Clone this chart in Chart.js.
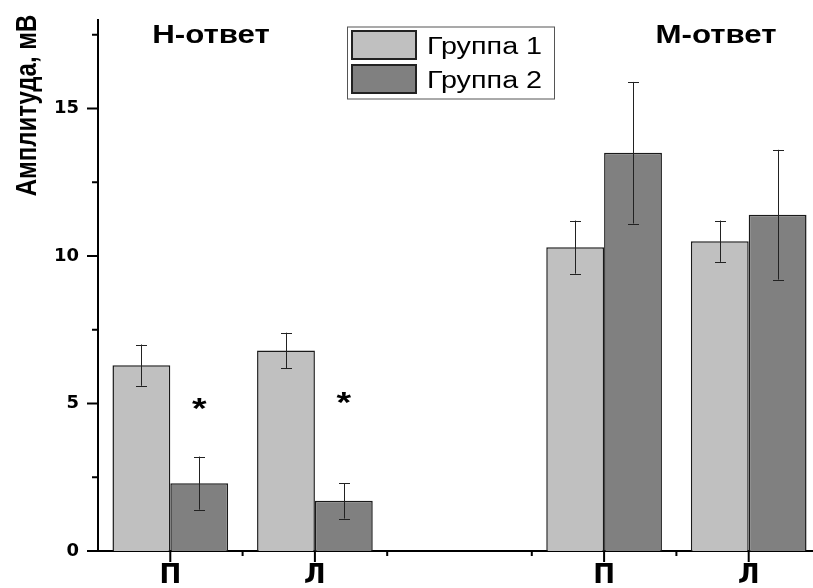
<!DOCTYPE html>
<html>
<head>
<meta charset="utf-8">
<script src="https://cdn.jsdelivr.net/npm/chart.js@4.4.1/dist/chart.umd.min.js"></script>
<style>
  html, body { margin: 0; padding: 0; background: #fff; overflow: hidden; }
  #wrap { position: relative; width: 830px; height: 588px; }
</style>
</head>
<body>
<div id="wrap"><canvas id="chart"></canvas></div>
<script>
// Amplitude of the H- and M-responses, left/right side, two groups
const categories = ['П', 'Л', '', 'П', 'Л'];
const seriesNames = ['Группа 1', 'Группа 2'];
const group1Values = [6.3, 6.8, null, 10.3, 10.5];
const group1Errors = [0.7, 0.6, null, 0.9, 0.7];
const group2Values = [2.3, 1.7, null, 13.5, 11.4];
const group2Errors = [0.9, 0.6, null, 2.4, 2.2];
const yTicks = [0, 5, 10, 15];
const significance = ['*', '*', '', '', ''];
const significanceLevel = [5.0, 5.2, null, null, null];
const sectionTitles = ['Н-ответ', 'М-ответ'];
const yTitle = 'Амплитуда, мВ';

const SX = 1.25; // horizontal stretch used for the drawn captions

function stretchedText(ctx, text, x, y, font, align) {
  ctx.save();
  ctx.font = font;
  ctx.fillStyle = '#000';
  ctx.textBaseline = 'alphabetic';
  ctx.textAlign = align;
  ctx.translate(x, y);
  ctx.scale(SX, 1);
  ctx.fillText(text, 0, 0);
  ctx.restore();
}

const decorations = {
  id: 'decorations',
  afterDatasetsDraw(chart) {
    const ctx = chart.ctx;
    const xs = chart.scales.x, ys = chart.scales.y;
    const area = chart.chartArea;

    // error bars
    ctx.save();
    ctx.strokeStyle = '#222';
    ctx.lineWidth = 1;
    chart.data.datasets.forEach((ds, di) => {
      const meta = chart.getDatasetMeta(di);
      ds.data.forEach((v, i) => {
        const e = ds.errors[i];
        if (v == null || e == null) return;
        const x = Math.round(meta.data[i].x) + 0.5;
        const yt = ys.getPixelForValue(v + e);
        const yb = ys.getPixelForValue(v - e);
        ctx.beginPath();
        ctx.moveTo(x, yt); ctx.lineTo(x, yb);
        ctx.moveTo(x - 5.5, Math.round(yt) + 0.5); ctx.lineTo(x + 5.5, Math.round(yt) + 0.5);
        ctx.moveTo(x - 5.5, Math.round(yb) + 0.5); ctx.lineTo(x + 5.5, Math.round(yb) + 0.5);
        ctx.stroke();
      });
    });
    ctx.restore();

    // axis tick marks (major and minor)
    ctx.save();
    ctx.strokeStyle = '#000';
    ctx.lineWidth = 2;
    ctx.beginPath();
    const step = yTicks[1] - yTicks[0];
    yTicks.forEach(v => {
      const y = ys.getPixelForValue(v);
      ctx.moveTo(area.left - 11, y); ctx.lineTo(area.left, y);
      const m = v + step / 2;
      if (m <= ys.max) {
        const ym = ys.getPixelForValue(m);
        ctx.moveTo(area.left - 6, ym); ctx.lineTo(area.left, ym);
      }
    });
    categories.forEach((c, i) => {
      const x = xs.getPixelForTick(i);
      if (c !== '') { ctx.moveTo(x, area.bottom); ctx.lineTo(x, area.bottom + 11); }
      if (i > 0) {
        const xb = (x + xs.getPixelForTick(i - 1)) / 2;
        ctx.moveTo(xb, area.bottom); ctx.lineTo(xb, area.bottom + 5);
      }
    });
    ctx.stroke();
    ctx.restore();

    // significance marks above group 2 bars
    const meta2 = chart.getDatasetMeta(1);
    significance.forEach((s, i) => {
      if (!s) return;
      const font = 'bold 30px "Liberation Sans", Arial, sans-serif';
      ctx.save();
      ctx.font = font;
      const m = ctx.measureText(s);
      ctx.restore();
      const cy = ys.getPixelForValue(significanceLevel[i]);
      const base = cy + (m.actualBoundingBoxAscent - m.actualBoundingBoxDescent) / 2;
      stretchedText(ctx, s, meta2.data[i].x, base, font, 'center');
    });
  },
  afterDraw(chart) {
    const ctx = chart.ctx;

    // section captions
    const capFont = 'bold 25px "Liberation Sans", Arial, sans-serif';
    stretchedText(ctx, sectionTitles[0], 211, 43, capFont, 'center');
    stretchedText(ctx, sectionTitles[1], 716, 43, capFont, 'center');

    // y axis title, rotated
    ctx.save();
    ctx.font = 'bold 24px "Liberation Sans", Arial, sans-serif';
    ctx.fillStyle = '#000';
    ctx.textAlign = 'center';
    ctx.textBaseline = 'alphabetic';
    ctx.translate(36, 105.5);
    ctx.rotate(-Math.PI / 2);
    ctx.scale(1, SX);
    ctx.fillText(yTitle, 0, 0);
    ctx.restore();

    // legend box
    const lx = 347, ly = 26.5, lw = 207, lh = 72;
    ctx.save();
    ctx.fillStyle = '#fff';
    ctx.fillRect(lx, ly, lw, lh);
    ctx.strokeStyle = '#555';
    ctx.lineWidth = 1;
    ctx.strokeRect(lx + 0.5, ly + 0.5, lw, lh);
    chart.data.datasets.forEach((ds, i) => {
      const sy = 30 + i * 34;
      ctx.fillStyle = ds.backgroundColor;
      ctx.fillRect(351, sy, 66, 30);
      ctx.strokeStyle = '#222';
      ctx.lineWidth = 2;
      ctx.strokeRect(352, sy + 1, 64, 28);
      stretchedText(ctx, ds.label, 427, 54 + i * 34, '23px "Liberation Sans", Arial, sans-serif', 'left');
    });
    ctx.restore();
  }
};

new Chart(document.getElementById('chart'), {
  type: 'bar',
  data: {
    labels: categories,
    datasets: [
      { label: seriesNames[0], data: group1Values, errors: group1Errors,
        backgroundColor: '#c0c0c0', borderColor: '#1a1a1a', borderWidth: 1.5 },
      { label: seriesNames[1], data: group2Values, errors: group2Errors,
        backgroundColor: '#808080', borderColor: '#1a1a1a', borderWidth: 1.5 }
    ]
  },
  options: {
    responsive: true,
    maintainAspectRatio: false,
    animation: false,
    layout: { padding: { top: 20, right: 9, left: 0, bottom: 0 } },
    plugins: { legend: { display: false }, tooltip: { enabled: false } },
    datasets: { bar: { categoryPercentage: 0.8, barPercentage: 1.0 } },
    scales: {
      x: {
        grid: { display: false, drawTicks: false },
        border: { color: '#000', width: 2 },
        ticks: {
          color: '#000', padding: 10, maxRotation: 0, autoSkip: false,
          font: { family: 'DejaVu Sans', weight: 'bold', size: 26 }
        },
        afterFit(scale) {
          scale.height = 37;
          scale.paddingLeft = 0; scale.paddingRight = 0;
        }
      },
      y: {
        min: 0, max: 18,
        grid: { display: false, drawTicks: false },
        border: { color: '#000', width: 2 },
        ticks: {
          color: '#000', padding: 19,
          font: { family: 'DejaVu Sans', weight: 'bold', size: 18 }
        },
        afterBuildTicks(scale) { scale.ticks = yTicks.map(v => ({ value: v })); },
        afterFit(scale) {
          scale.width = 98;
          scale.paddingTop = 0; scale.paddingBottom = 0;
        }
      }
    }
  },
  plugins: [decorations]
});
</script>
</body>
</html>
